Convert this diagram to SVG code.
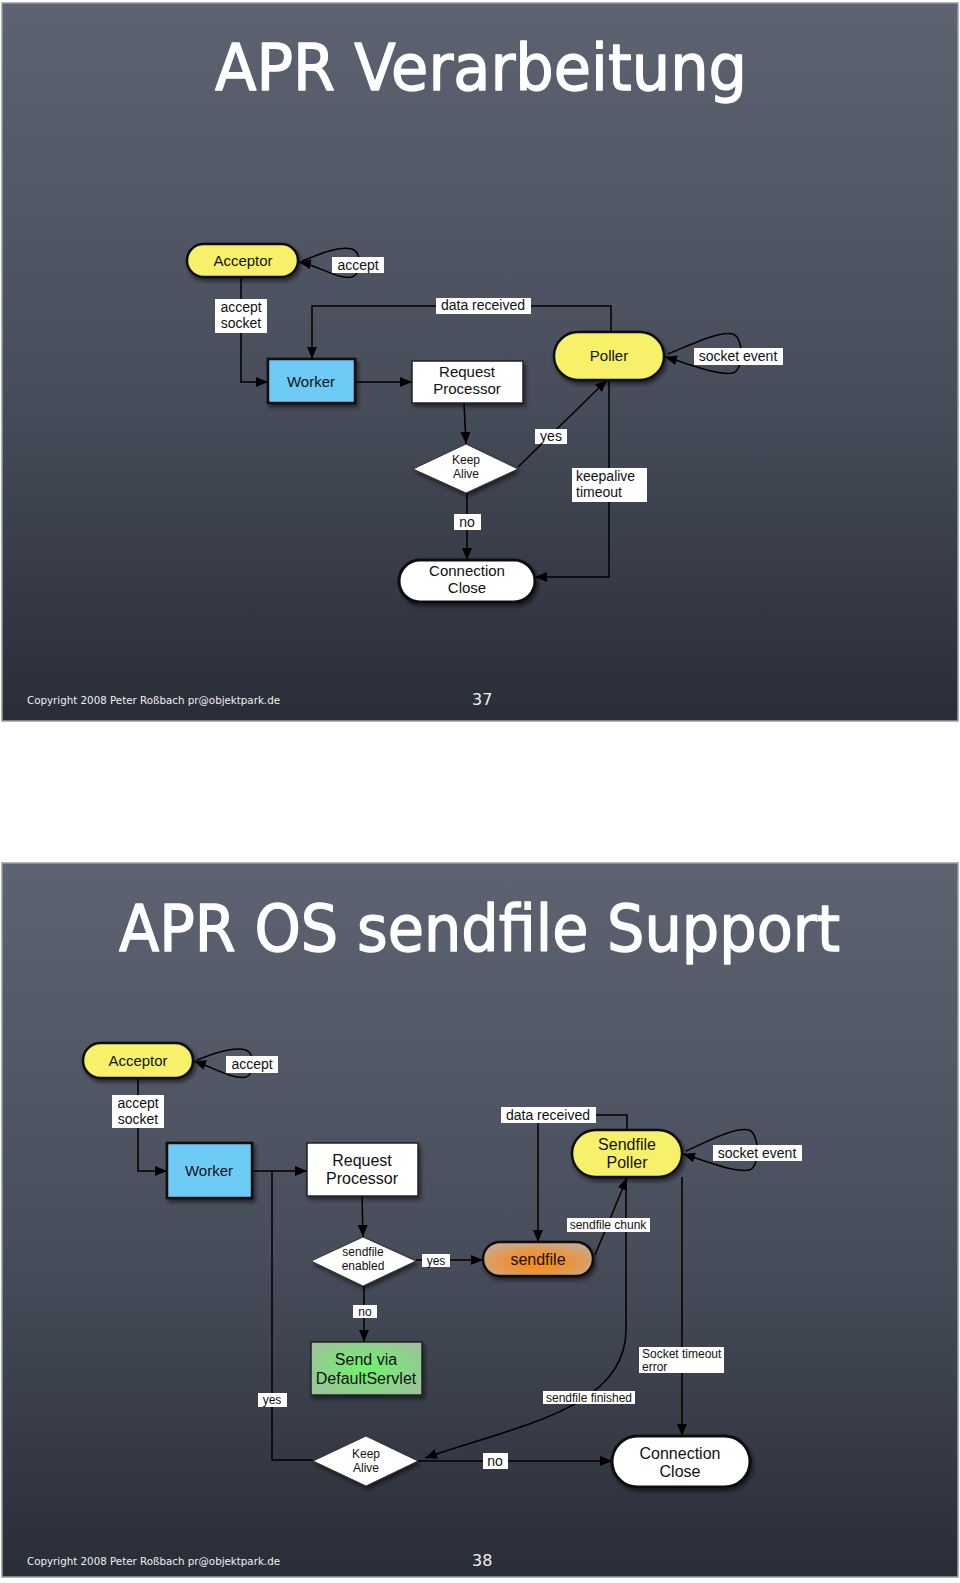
<svg xmlns="http://www.w3.org/2000/svg" width="960" height="1583" viewBox="0 0 960 1583">
<defs>
<linearGradient id="bg" x1="0" y1="0" x2="0" y2="1">
<stop offset="0" stop-color="#5e6372"/>
<stop offset="0.55" stop-color="#484d5b"/>
<stop offset="1" stop-color="#282d38"/>
</linearGradient>
<radialGradient id="orange" cx="0.5" cy="0.6" r="0.6">
<stop offset="0" stop-color="#ff8a0c"/>
<stop offset="0.5" stop-color="#e99440"/>
<stop offset="1" stop-color="#c9a98c"/>
</radialGradient>
<radialGradient id="green" cx="0.5" cy="0.5" r="0.6">
<stop offset="0" stop-color="#6ef46a"/>
<stop offset="1" stop-color="#9cc39a"/>
</radialGradient>
<filter id="sh" x="-20%" y="-20%" width="150%" height="160%">
<feDropShadow dx="2" dy="3" stdDeviation="2" flood-color="#000" flood-opacity="0.55"/>
</filter>
<marker id="ah" viewBox="0 0 12 10" refX="12" refY="5" markerWidth="12" markerHeight="10" markerUnits="userSpaceOnUse" orient="auto">
<path d="M0,0 L12,5 L0,10 Z" fill="#000"/>
</marker>
</defs>
<style>
.slide{fill:url(#bg);stroke:#9a9ca2;stroke-width:1.5}
.title{font-family:"DejaVu Sans",sans-serif;fill:#fff;stroke:#fff;stroke-width:1.4;stroke-linejoin:round;font-size:64px}
.foot{font-family:"DejaVu Sans",sans-serif;fill:#f0f0f0;font-size:11px}
.num{font-family:"DejaVu Sans",sans-serif;fill:#f0f0f0;font-size:16px}
.c{fill:none;stroke:#000;stroke-width:1.5}
.ca{fill:none;stroke:#000;stroke-width:1.5;marker-end:url(#ah)}
.lb{fill:#fff}
.lt{font-family:"Liberation Sans",Arial,sans-serif;font-size:14px;fill:#111;text-anchor:middle}
.ls{font-family:"Liberation Sans",Arial,sans-serif;font-size:12px;fill:#111;text-anchor:middle}
.nt{font-family:"Liberation Sans",Arial,sans-serif;font-size:15px;fill:#111;text-anchor:middle}
.nt2{font-family:"Liberation Sans",Arial,sans-serif;font-size:16px;fill:#111;text-anchor:middle}
.yel{fill:#f7f16a;stroke:#111;stroke-width:2.5;filter:url(#sh)}
.blue{fill:#6dcbf6;stroke:#111;stroke-width:2.5;filter:url(#sh)}
.wht{fill:#fff;stroke:#222;stroke-width:1.5;filter:url(#sh)}
.wpill{fill:#fff;stroke:#111;stroke-width:3;filter:url(#sh)}
.dia{fill:#fff;stroke:#333;stroke-width:1;filter:url(#sh)}
</style>
<rect x="0" y="0" width="960" height="1583" fill="#fff"/>

<!-- Slide 1 -->
<g id="slide1">
<rect class="slide" x="2" y="3" width="956" height="718"/>
<text class="title" x="215" y="90" textLength="532" lengthAdjust="spacingAndGlyphs">APR Verarbeitung</text>
<text class="foot" x="27" y="704" textLength="253" lengthAdjust="spacingAndGlyphs">Copyright 2008 Peter Roßbach pr@objektpark.de</text>
<text class="num" x="472" y="705">37</text>
</g>

<g id="connectors1">
<path class="ca" d="M241,277 V382 H268"/>
<path class="ca" d="M355,382 H412"/>
<path class="ca" d="M611,332 V306 H312 V359"/>
<path class="ca" d="M464,403 L466,444"/>
<path class="ca" d="M518,467 L607,380"/>
<path class="ca" d="M609,380 V577 H535"/>
<path class="ca" d="M467,493 V560"/>
<path class="ca" d="M302,261 C320,254 338,246 352,249 C362,252 362,274 352,277 C338,280 320,266 299,262"/>
<path class="ca" d="M668,354 C690,345 718,331 733,334 C744,338 744,370 733,373 C718,376 690,364 665,357"/>
</g>

<g id="labels1">
<rect class="lb" x="332" y="257" width="52" height="16"/><text class="lt" x="358" y="270">accept</text>
<rect class="lb" x="215" y="299" width="52" height="34"/><text class="lt" x="241" y="312">accept</text><text class="lt" x="241" y="328">socket</text>
<rect class="lb" x="436" y="298" width="95" height="16"/><text class="lt" x="483" y="310">data received</text>
<rect class="lb" x="694" y="348" width="89" height="17"/><text class="lt" x="738" y="361">socket event</text>
<rect class="lb" x="535" y="429" width="32" height="15"/><text class="lt" x="551" y="441">yes</text>
<rect class="lb" x="572" y="468" width="75" height="34"/><text class="lt" x="576" y="481" style="text-anchor:start">keepalive</text><text class="lt" x="576" y="497" style="text-anchor:start">timeout</text>
<rect class="lb" x="454" y="514" width="27" height="16"/><text class="lt" x="467" y="527">no</text>
</g>

<g id="acceptor1"><rect class="yel" x="187" y="244" width="111" height="33" rx="16.5"/><text class="nt" x="243" y="266">Acceptor</text></g>
<g id="worker1"><rect class="blue" x="268" y="359" width="87" height="44"/><text class="nt" x="311" y="387">Worker</text></g>
<g id="reqproc1"><rect class="wht" x="412" y="361" width="111" height="42"/><text class="nt" x="467" y="377">Request</text><text class="nt" x="467" y="394">Processor</text></g>
<g id="poller1"><rect class="yel" x="554" y="332" width="110" height="48" rx="24"/><text class="nt" x="609" y="361">Poller</text></g>
<g id="keepalive1"><polygon class="dia" points="466,444 518,469 466,493 413,469"/><text class="ls" x="466" y="464">Keep</text><text class="ls" x="466" y="478">Alive</text></g>
<g id="connclose1"><rect class="wpill" x="399" y="560" width="136" height="42" rx="21"/><text class="nt" x="467" y="576">Connection</text><text class="nt" x="467" y="593">Close</text></g>

<!-- Slide 2 -->
<g id="slide2">
<rect class="slide" x="2" y="863" width="956" height="714"/>
<text class="title" x="119" y="951" textLength="721" lengthAdjust="spacingAndGlyphs">APR OS sendfile Support</text>
<text class="foot" x="27" y="1565" textLength="253" lengthAdjust="spacingAndGlyphs">Copyright 2008 Peter Roßbach pr@objektpark.de</text>
<text class="num" x="472" y="1566">38</text>
</g>

<g id="connectors2">
<path class="ca" d="M138,1078 V1171 H167"/>
<path class="ca" d="M252,1171 H307"/>
<path class="ca" d="M362,1196 L363,1237"/>
<path class="ca" d="M416,1260 H483"/>
<path class="ca" d="M364,1286 V1342"/>
<path class="c" d="M313,1460 H272 V1171"/>
<path class="ca" d="M418,1461 H612"/>
<path class="ca" d="M682,1177 V1436"/>
<path class="ca" d="M626,1177 V1330 C626,1408 520,1425 425,1458"/>
<path class="ca" d="M627,1130 V1115 H538 V1242"/>
<path class="ca" d="M595,1255 L627,1178"/>
<path class="ca" d="M197,1060 C214,1053 234,1046 246,1050 C255,1054 255,1074 246,1077 C234,1080 214,1068 194,1061"/>
<path class="ca" d="M686,1151 C706,1142 734,1127 749,1130 C760,1134 760,1168 749,1170 C734,1173 706,1161 683,1154"/>
</g>

<g id="labels2">
<rect class="lb" x="226" y="1056" width="52" height="17"/><text class="lt" x="252" y="1069">accept</text>
<rect class="lb" x="112" y="1095" width="52" height="33"/><text class="lt" x="138" y="1108">accept</text><text class="lt" x="138" y="1124">socket</text>
<rect class="lb" x="501" y="1107" width="95" height="16"/><text class="lt" x="548" y="1120">data received</text>
<rect class="lb" x="713" y="1145" width="89" height="16"/><text class="lt" x="757" y="1158">socket event</text>
<rect class="lb" x="567" y="1218" width="83" height="14"/><text class="ls" x="608" y="1229">sendfile chunk</text>
<rect class="lb" x="422" y="1254" width="28" height="13"/><text class="ls" x="436" y="1265">yes</text>
<rect class="lb" x="353" y="1305" width="24" height="13"/><text class="ls" x="365" y="1316">no</text>
<rect class="lb" x="639" y="1347" width="85" height="26"/><text class="ls" x="642" y="1358" style="text-anchor:start">Socket timeout</text><text class="ls" x="642" y="1371" style="text-anchor:start">error</text>
<rect class="lb" x="543" y="1391" width="92" height="13"/><text class="ls" x="589" y="1402">sendfile finished</text>
<rect class="lb" x="258" y="1393" width="29" height="14"/><text class="ls" x="272" y="1404">yes</text>
<rect class="lb" x="483" y="1453" width="25" height="16"/><text class="lt" x="495" y="1466">no</text>
</g>

<g id="acceptor2"><rect class="yel" x="83" y="1043" width="110" height="35" rx="17.5"/><text class="nt" x="138" y="1066">Acceptor</text></g>
<g id="worker2"><rect class="blue" x="167" y="1143" width="85" height="55"/><text class="nt" x="209" y="1176">Worker</text></g>
<g id="reqproc2"><rect class="wht" x="307" y="1143" width="111" height="53"/><text class="nt2" x="362" y="1166">Request</text><text class="nt2" x="362" y="1184">Processor</text></g>
<g id="sfpoller2"><rect class="yel" x="572" y="1130" width="110" height="47" rx="23.5"/><text class="nt2" x="627" y="1150">Sendfile</text><text class="nt2" x="627" y="1168">Poller</text></g>
<g id="sfenabled2"><polygon class="dia" points="363,1237 416,1261 363,1286 311,1261"/><text class="ls" x="363" y="1256">sendfile</text><text class="ls" x="363" y="1270">enabled</text></g>
<g id="sendfile2"><rect x="483" y="1242" width="110" height="34" rx="17" fill="url(#orange)" stroke="#111" stroke-width="2.5" filter="url(#sh)"/><text class="nt2" x="538" y="1265">sendfile</text></g>
<g id="sendvia2"><rect x="311" y="1342" width="111" height="53" fill="url(#green)" stroke="#222" stroke-width="1.5" filter="url(#sh)"/><text class="nt2" x="366" y="1365">Send via</text><text class="nt2" x="366" y="1384">DefaultServlet</text></g>
<g id="keepalive2"><polygon class="dia" points="366,1436 418,1461 366,1486 313,1461"/><text class="ls" x="366" y="1458">Keep</text><text class="ls" x="366" y="1472">Alive</text></g>
<g id="connclose2"><rect class="wpill" x="612" y="1436" width="138" height="51" rx="25.5"/><text class="nt2" x="680" y="1459">Connection</text><text class="nt2" x="680" y="1477">Close</text></g>
</svg>
